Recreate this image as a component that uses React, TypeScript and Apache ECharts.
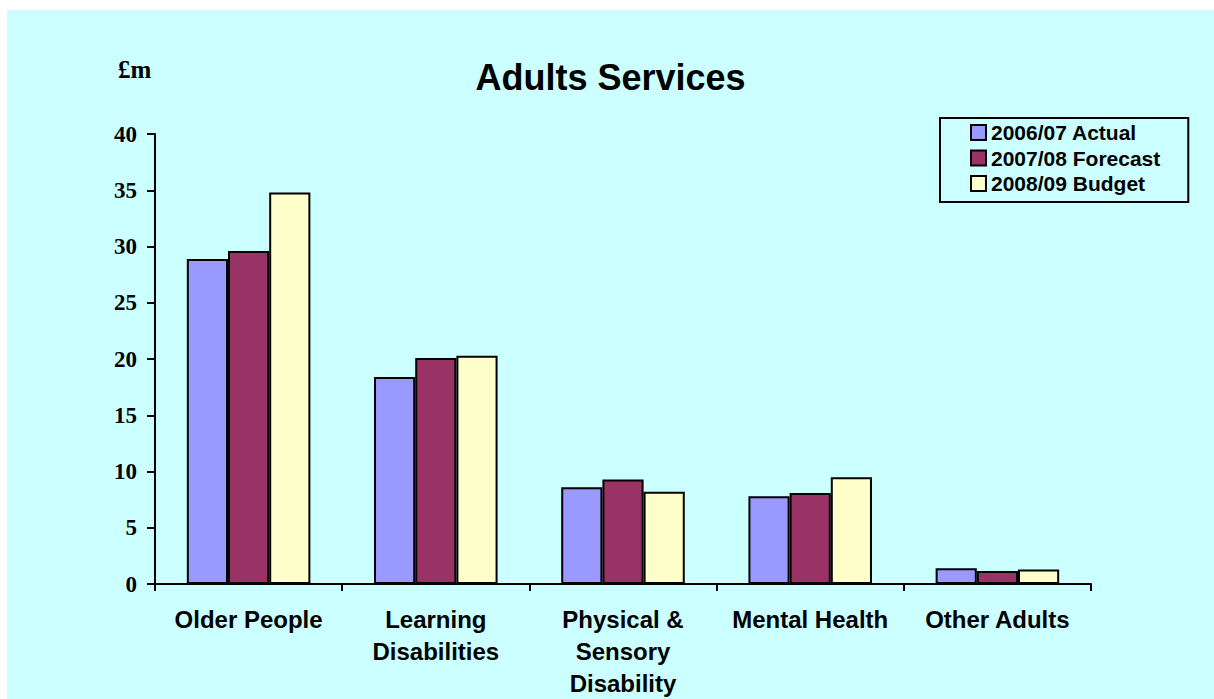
import React, { useEffect, useRef } from "react";
import * as echarts from "echarts";

const categories = ["Older People", "Learning\nDisabilities", "Physical &\nSensory\nDisability", "Mental Health", "Other Adults"];
const seriesNames = ["2006/07 Actual", "2007/08 Forecast", "2008/09 Budget"];
const actual = [28.9, 18.4, 8.6, 7.8, 1.4];
const forecast = [29.6, 20.1, 9.3, 8.1, 1.15];
const budget = [34.8, 20.3, 8.2, 9.5, 1.3];
const colors = ["#9999FF", "#993366", "#FFFFCC"];

const SANS = "'Liberation Sans', Arial, sans-serif";
const SERIF = "'Liberation Serif', 'Times New Roman', serif";

export default function App() {
  const ref = useRef<HTMLDivElement>(null);
  useEffect(() => {
    if (!ref.current) return;
    const chart = echarts.init(ref.current, null, { renderer: "svg" });
    const data = [actual, forecast, budget];
    chart.setOption({
      animation: false,
      backgroundColor: "#CCFFFF",
      title: {
        text: "Adults Services",
        left: "center",
        top: 44,
        textStyle: { fontFamily: SANS, fontWeight: "bold", fontSize: 36, color: "#000" },
      },
      graphic: [
        {
          type: "text",
          x: 111,
          y: 47,
          style: { text: "£m", font: `bold 25px ${SERIF}`, fill: "#000" },
        },
      ],
      legend: {
        orient: "vertical",
        left: 933,
        top: 108,
        padding: [4, 28, 8, 30],
        borderColor: "#000",
        borderWidth: 2,
        itemWidth: 15,
        itemHeight: 15,
        itemGap: 4.5,
        itemTextGap: 4,
        icon: "rect",
        textStyle: { fontFamily: SANS, fontWeight: "bold", fontSize: 21, color: "#000", lineHeight: 21 },
        data: seriesNames,
      },
      grid: { left: 148, right: 123, top: 124, bottom: 114 },
      xAxis: {
        type: "category",
        data: categories,
        axisLine: { lineStyle: { color: "#000", width: 2 } },
        axisTick: { show: true, length: 7, lineStyle: { color: "#000", width: 2 } },
        axisLabel: {
          interval: 0,
          margin: 19,
          fontFamily: SANS,
          fontWeight: "bold",
          fontSize: 24,
          lineHeight: 32,
          color: "#000",
        },
      },
      yAxis: {
        type: "value",
        min: 0,
        max: 40,
        interval: 5,
        splitLine: { show: false },
        axisLine: { show: true, lineStyle: { color: "#000", width: 2 } },
        axisTick: { show: true, length: 8, lineStyle: { color: "#000", width: 2 } },
        axisLabel: {
          margin: 18,
          fontFamily: SERIF,
          fontWeight: "bold",
          fontSize: 23,
          color: "#000",
        },
      },
      series: seriesNames.map((name, i) => ({
        name,
        type: "bar",
        data: data[i],
        barGap: "0%",
        barCategoryGap: "34%",
        itemStyle: { color: colors[i], borderColor: "#000", borderWidth: 2 },
      })),
    });
    return () => chart.dispose();
  }, []);
  return (
    <div
      ref={ref}
      style={{ position: "fixed", left: 7, top: 10, width: 1207, height: 689 }}
    />
  );
}
